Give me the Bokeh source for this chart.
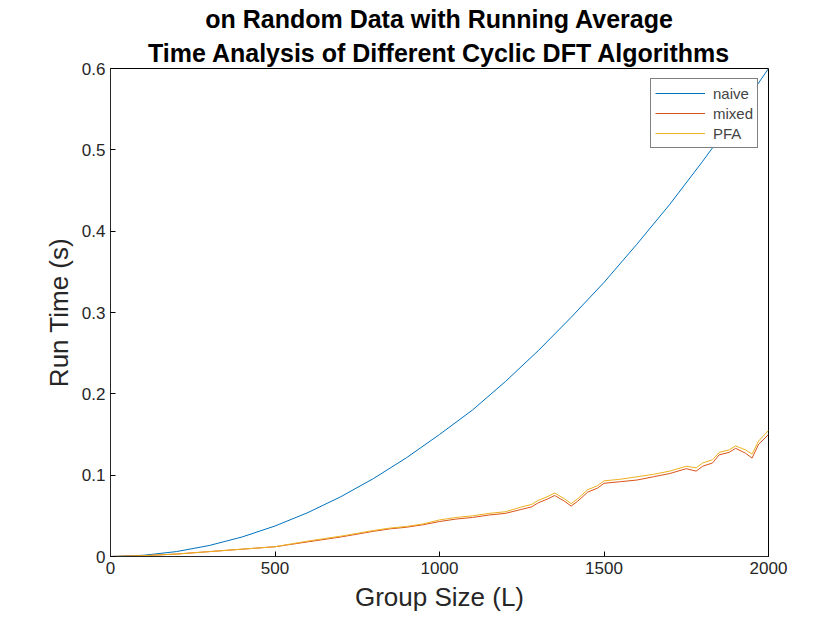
from bokeh.plotting import figure
from bokeh.embed import file_html
from bokeh.resources import INLINE
from bokeh.models import Legend, LegendItem, Range1d, Title

L_naive = [0,100,200,300,400,500,600,700,800,900,1000,1100,1200,1300,1400,1500,1600,1700,1800,1900,2000]
naive = [0,.0015,.006,.0135,.024,.0375,.054,.0735,.096,.1215,.15,.18,.215,.253,.294,.337,.384,.433,.486,.541,.6]

L_alg = [0,100,200,300,400,500,600,700,800,850,900,950,1000,1050,1100,1150,1200,1250,1280,1300,1330,1350,1380,1400,1420,1450,1480,1500,1550,1600,1650,1700,1750,1780,1800,1830,1850,1880,1900,1930,1950,1970,2000]
mixed = [0,.001,.003,.006,.009,.012,.018,.024,.031,.034,.036,.039,.043,.046,.048,.051,.053,.058,.061,.066,.071,.075,.068,.062,.068,.079,.084,.090,.092,.094,.098,.102,.108,.105,.111,.115,.125,.128,.133,.127,.121,.138,.150]
pfa = [0,.001,.003,.006,.009,.012,.019,.025,.032,.035,.037,.040,.045,.048,.050,.053,.055,.061,.064,.069,.074,.078,.071,.065,.071,.082,.087,.093,.095,.098,.101,.105,.111,.109,.115,.119,.128,.131,.136,.131,.126,.142,.155]

p = figure(width=824, height=614, output_backend="svg", toolbar_location=None,
           x_range=Range1d(0, 2000), y_range=Range1d(0, 0.6),
           min_border_left=110, min_border_right=56, min_border_bottom=58, min_border_top=4)
title_lines = ["Time Analysis of Different Cyclic DFT Algorithms",
               "on Random Data with Running Average"]
p.title.text = title_lines[1]
for t in [p.title]:
    pass
t2 = Title(text=title_lines[0])
p.add_layout(t2, "above")
for t in (p.title, t2):
    t.text_font = "Liberation Sans"
    t.text_font_size = "25px"
    t.align = "center"
    t.text_color = "black"
    t.standoff = 4

r1 = p.line(L_naive, naive, line_color="#0072BD", line_width=1)
r2 = p.line(L_alg, mixed, line_color="#D95319", line_width=1)
r3 = p.line(L_alg, pfa, line_color="#EDB120", line_width=1)

p.xgrid.visible = False
p.ygrid.visible = False
p.outline_line_color = "black"
for ax in (p.xaxis[0], p.yaxis[0]):
    ax.major_tick_in = 5
    ax.major_tick_out = 0
    ax.minor_tick_in = 0
    ax.minor_tick_out = 0
    ax.major_label_text_font = "Liberation Sans"
    ax.major_label_text_font_size = "17px"
    ax.major_label_text_color = "#262626"
    ax.axis_label_text_font = "Liberation Sans"
    ax.axis_label_text_font_size = "26px"
    ax.axis_label_text_font_style = "normal"
    ax.axis_label_text_color = "#262626"
    ax.axis_line_color = "#262626"
p.xaxis.ticker = [0, 500, 1000, 1500, 2000]
p.yaxis.ticker = [0, 0.1, 0.2, 0.3, 0.4, 0.5, 0.6]
p.xaxis.axis_label = "Group Size (L)"
p.yaxis.axis_label = "Run Time (s)"

legend = Legend(items=[LegendItem(label="naive", renderers=[r1]),
                       LegendItem(label="mixed", renderers=[r2]),
                       LegendItem(label="PFA", renderers=[r3])],
                location="top_right", label_text_font="Liberation Sans",
                label_text_font_size="15px", border_line_color="black",
                spacing=0, padding=4, glyph_width=50, label_standoff=8,
                label_height=20, glyph_height=20, margin=10)
p.add_layout(legend)

open("out.html", "w").write(file_html(p, INLINE))
